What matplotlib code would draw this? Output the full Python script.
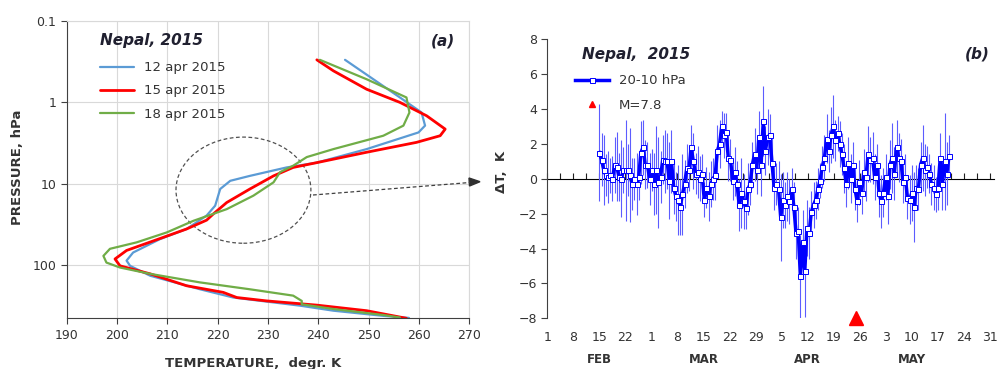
import numpy as np
import matplotlib.pyplot as plt
from matplotlib.patches import Ellipse
from matplotlib.lines import Line2D
from matplotlib.ticker import NullFormatter

plt.rcParams['font.family'] = ['DejaVu Sans']

# ---- panel (a): temperature profiles over Nepal ----
t_12 = [245.3, 256.2, 260.5, 261.2, 259.9, 249.6, 239.7, 233.7, 226.4, 222.5, 220.5,
        219.5, 217.8, 213.8, 208.5, 203.2, 201.9, 202.6, 206.6, 216.5, 223.1, 236.4,
        243.0, 252.9, 258.0]
p_12 = [0.30, 0.87, 1.33, 1.93, 2.34, 3.75, 5.5, 6.3, 8.0, 9.2, 11.6,
        18.6, 24.6, 36, 48, 70, 88, 102, 135, 198, 250, 315,
        363, 420, 445]

t_15 = [239.7, 243.0, 249.6, 256.2, 261.5, 265.2, 264.2, 259.5, 249.6, 239.7, 235.0,
        231.1, 226.4, 221.8, 219.1, 217.8, 213.8, 206.6, 201.9, 199.6, 200.6, 206.6,
        213.8, 221.1, 223.8, 229.7, 239.7, 249.6, 257.5]
p_15 = [0.30, 0.41, 0.69, 1.0, 1.46, 2.13, 2.57, 3.1, 4.1, 5.5, 6.3,
        8.0, 11.6, 17, 23.6, 28, 36, 52, 66, 84, 102, 128,
        179, 216, 250, 275, 310, 363, 450]

t_18 = [240.3, 249.6, 257.5, 258.1, 256.9, 252.9, 243.0, 237.7, 235.0, 232.4, 231.1,
        227.1, 221.8, 215.2, 209.9, 203.9, 198.6, 197.3, 197.9, 200.6, 206.6, 216.5,
        226.4, 235.0, 236.7, 236.7, 243.0, 252.9, 256.2]
p_18 = [0.30, 0.52, 0.87, 1.33, 1.93, 2.57, 3.75, 4.7, 6.0, 7.2, 9.6,
        14, 20.5, 28.5, 39.6, 52.5, 63, 77, 93, 107, 128, 163,
        198, 237, 275, 303, 346, 410, 440]

profile_labels = ['12 apr 2015', '15 apr 2015', '18 apr 2015']
profile_colors = ['#5b9bd5', '#ff0000', '#70ad47']
profile_widths = [1.6, 2.0, 1.6]

# ---- panel (b): 20-10 hPa temperature anomaly, Feb 15 - May 20 ----
dT = [1.5, 1.1, 0.5,
      0.2, 0.1, 0.2, 0.0,
      0.8, 0.7, 0.1, 0.0,
      0.5, 0.5, 0.5, 0.2,
      -0.3, 0.0, -0.3, 0.1,
      1.5, 1.8, 0.8,
      0.8, 0.0, 0.5, -0.3,
      0.5, -0.2, 0.1, 1.1, 1.0,
      1.0, -0.1, 1.0, -0.5,
      -1.0, -1.2, -1.6, -0.9, -0.3,
      0.6, 0.5, 1.8, 1.0,
      0.3, 0.4, 0.0, 0.3, -1.2,
      -0.5, -1.0, -0.3, 0.0, 0.2,
      1.6, 2.0, 3.0, 2.5, 2.7,
      1.2, 1.1, -0.1, 0.4,
      -0.3, -1.5, -0.8, -1.3, -1.7,
      -0.6, -0.3, 0.8, 1.4, 0.5,
      2.4, 0.8, 3.3, 1.6, 2.4, 2.5, 0.9,
      -0.5, -0.3, -0.6,
      -2.2, -1.2, -1.5,
      -1.0, -1.3, -0.6, -1.6,
      -3.1, -3.0, -5.6, -3.6, -5.3,
      -2.8, -3.1, -1.9,
      -1.5, -1.2, -0.6, -0.1,
      0.7, 1.2, 2.3, 1.6,
      2.5, 3.0, 2.2, 2.6, 2.0,
      1.4, 0.6, -0.3, 0.9,
      0.0, 0.8, -0.6, -1.3, -0.2,
      -0.8, 0.4, 0.1, 1.4, 1.1,
      1.2, 0.1, 0.8, -0.8,
      -1.3, -0.8, 0.1, -1.0, 0.8,
      1.2, 0.3, 1.8, 1.2,
      1.0, -0.2, 0.1, -1.1,
      -1.2, -0.8, -1.6, -0.5,
      -0.6, 0.8, 1.2, 0.5, 0.7,
      0.3, -0.3, -0.5, -0.9,
      -0.5, 1.2, -0.3, 1.0, 0.3, 1.3]
dT_err = [2.8, 1.5, 2.0,
          1.2, 1.5, 1.0, 1.3,
          1.6, 2.0, 1.4, 2.2,
          1.3, 2.9, 1.5, 2.7,
          1.5, 1.2, 1.8, 1.3,
          1.8, 1.6, 1.4,
          1.3, 1.5, 1.2, 1.8,
          2.5, 2.6, 1.5, 1.4, 1.8,
          1.6, 2.2, 1.8, 1.5,
          1.4, 2.0, 1.6, 2.3, 1.4,
          1.4, 1.2, 1.3, 1.6,
          1.2, 1.5, 1.3, 1.1, 1.0,
          1.2, 1.4, 1.3, 1.2, 1.4,
          1.5, 1.4, 0.9, 1.3, 1.1,
          1.3, 1.2, 1.1, 1.4,
          1.3, 1.5, 2.0, 1.6, 1.2,
          1.5, 1.2, 1.3, 1.5, 1.4,
          1.5, 1.8, 2.0, 1.4, 1.6, 1.2, 1.5,
          1.3, 1.2, 1.6,
          2.5, 1.6, 1.3,
          1.4, 1.3, 1.2, 1.4,
          1.5, 1.4, 2.4, 1.8, 2.6,
          1.6, 1.5, 1.2,
          1.3, 1.1, 1.2, 1.0,
          1.2, 1.3, 1.4, 1.2,
          1.6, 1.8, 1.2, 1.0, 1.3,
          1.2, 1.4, 1.3, 1.5,
          1.4, 1.3, 1.2, 1.2, 1.3,
          1.2, 1.3, 1.4, 1.6, 1.3,
          1.5, 1.3, 1.2, 1.4,
          1.5, 1.4, 1.3, 1.6, 1.4,
          2.0, 1.5, 1.6, 1.4,
          1.3, 1.2, 1.3, 1.2,
          1.4, 1.6, 2.0, 1.3,
          1.2, 1.3, 1.9, 1.5, 1.2,
          1.1, 1.2, 1.3, 1.0,
          1.3, 1.4, 1.5, 2.8, 1.8, 1.2]
first_day, last_day = 14, 108          # days since 1 Feb 2015
quake_day = 83                         # 25 Apr 2015, M=7.8
week_days = np.arange(0, 120, 7)
week_labels = ['1', '8', '15', '22', '1', '8', '15', '22', '29',
               '5', '12', '19', '26', '3', '10', '17', '24', '31']
month_names = ['FEB', 'MAR', 'APR', 'MAY']
month_days = [14, 42, 70, 98]

fig = plt.figure(figsize=(9.98, 3.69), dpi=100)
txt = '#333333'

# ---------------- (a) ----------------
ax = fig.add_axes([0.0668, 0.1374, 0.4035, 0.8057])
for t, p, lab, c, w in zip([t_12, t_15, t_18], [p_12, p_15, p_18],
                           profile_labels, profile_colors, profile_widths):
    ax.plot(t, p, color=c, lw=w, label=lab, solid_capstyle='round')
ax.set_yscale('log')
ax.set_ylim(450, 0.1)
ax.set_xlim(190, 270)
ax.set_xticks(np.arange(190, 271, 10))
ax.set_yticks([0.1, 1, 10, 100])
ax.set_yticklabels(['0.1', '1', '10', '100'])
ax.yaxis.set_minor_locator(plt.NullLocator())
ax.grid(True, color='#d9d9d9', lw=0.8)
ax.set_axisbelow(True)
for s in ['top', 'right']:
    ax.spines[s].set_color('#d9d9d9')
for s in ['left', 'bottom']:
    ax.spines[s].set_color('#404040')
ax.tick_params(labelsize=9, colors='#404040', labelcolor=txt, length=4)
ax.text(0.083, 0.933, 'Nepal, 2015', transform=ax.transAxes, fontsize=11,
        fontweight='bold', fontstyle='italic', color='#202030', va='center')
ax.text(0.9645, 0.933, '(a)', transform=ax.transAxes, fontsize=11,
        fontweight='bold', fontstyle='italic', color='#202030', va='center', ha='right')
ax.legend(loc='upper left', bbox_to_anchor=(0.083, 0.865), frameon=False,
          fontsize=9.5, handlelength=2.6, handletextpad=0.7, labelspacing=0.78,
          borderpad=0, borderaxespad=0, labelcolor=txt)
ax.add_patch(Ellipse((0.439, 0.431), 0.335, 0.357, transform=ax.transAxes,
                     fill=False, ls=(0, (3, 2)), lw=0.9, color='#505050'))
fig.text(0.018, 1 - 167 / 369, 'PRESSURE, hPa', rotation=90, fontsize=9.5,
         fontweight='bold', color=txt, ha='center', va='center')
fig.text(253 / 998, 1 - 363 / 369, 'TEMPERATURE,  degr. K', fontsize=9.5,
         fontweight='bold', color=txt, ha='center', va='center')

# dashed arrow between panels
fig.add_artist(Line2D([313 / 998, 470 / 998], [1 - 195 / 369, 1 - 182.5 / 369],
                      transform=fig.transFigure, ls=(0, (3, 2)), lw=0.9, color='#404040'))
fig.add_artist(plt.Polygon([[480 / 998, 1 - 181.7 / 369], [469 / 998, 1 - 178 / 369],
                            [469.5 / 998, 1 - 186 / 369]], closed=True,
                           transform=fig.transFigure, color='#303030'))

# ---------------- (b) ----------------
bx = fig.add_axes([0.5484, 0.1374, 0.4472, 0.7561])
days = np.linspace(first_day, last_day, len(dT))
bx.errorbar(days, dT, yerr=dT_err, fmt='none', ecolor='#5c5cff', elinewidth=0.8, zorder=2)
bx.plot(days, dT, color='#0000ff', lw=2.5, marker='s', ms=3.6, mfc='white',
        mec='#0000ff', mew=0.7, zorder=3)
bx.plot([quake_day], [-8], marker='^', color='#ff0000', ms=10, ls='none',
        clip_on=False, zorder=4)
bx.set_xlim(0, 120)
bx.set_ylim(-8, 8)
bx.set_yticks(np.arange(-8, 9, 2))
for s in ['top', 'right', 'bottom']:
    bx.spines[s].set_visible(False)
bx.spines['left'].set_color('#404040')
bx.tick_params(axis='y', labelsize=9, colors='#404040', labelcolor=txt, length=4)
bx.set_xticks(week_days)
bx.set_xticklabels(week_labels)
bx.tick_params(axis='x', length=0, pad=9, labelsize=9, labelcolor=txt)
zero = bx.secondary_xaxis(0.5)
zero.set_xticks(np.arange(0, 120, 3.5))
zero.xaxis.set_major_formatter(NullFormatter())
zero.tick_params(axis='x', length=4, direction='out', color='#202020')
zero.spines['bottom'].set_color('#202020')
for m, d in zip(month_names, month_days):
    bx.text(d, -0.149, m, transform=bx.get_xaxis_transform(), ha='center', va='center',
            fontsize=8.5, fontweight='bold', color=txt)
bx.text(0.077, 0.947, 'Nepal,  2015', transform=bx.transAxes, fontsize=11,
        fontweight='bold', fontstyle='italic', color='#202030', va='center')
bx.text(0.992, 0.947, '(b)', transform=bx.transAxes, fontsize=11,
        fontweight='bold', fontstyle='italic', color='#202030', va='center', ha='right')
h_series = Line2D([], [], color='#0000ff', lw=2.5, marker='s', ms=3.6, mfc='white',
                  mec='#0000ff', mew=0.7)
h_quake = Line2D([], [], marker='^', color='#ff0000', ms=4, ls='none')
bx.legend([h_series, h_quake], ['20-10 hPa', 'M=7.8'], loc='upper left',
          bbox_to_anchor=(0.062, 0.875), frameon=False, fontsize=9.5, handlelength=2.6,
          handletextpad=0.7, labelspacing=0.9, borderpad=0, borderaxespad=0,
          labelcolor=txt)
fig.text(502 / 998, 1 - 172 / 369, 'ΔT,  K', rotation=90, fontsize=9.5,
         fontweight='bold', color=txt, ha='center', va='center')

fig.savefig('out.png', dpi=100)
